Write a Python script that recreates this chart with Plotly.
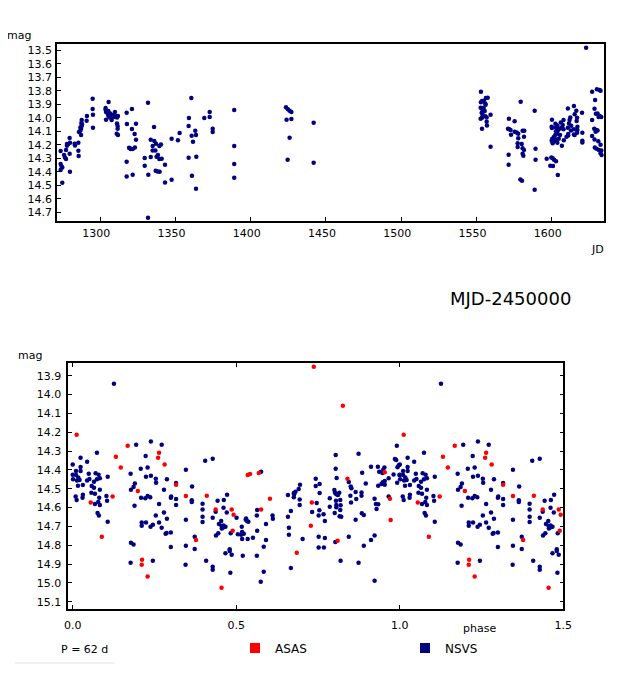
import numpy as np
import plotly.graph_objects as go

# the page body keeps an 8 px margin, so the figure is drawn 8 px smaller
# and every position below is given in window pixels minus that offset
OFF = 8
W, H = 625 - OFF, 674 - OFF

# ---- light curve (NSVS), JD-2450000 vs mag ----
lc_jd = [
    1273.6, 1273.6, 1274.3, 1273.6, 1274.7, 1274.7, 1275.9, 1276.5, 1277.2, 1277.2,
    1277.8, 1277.8, 1278.7, 1279.6, 1279.8, 1279.6, 1279.8, 1282.9, 1283.2, 1285.4,
    1285.4, 1285.6, 1285.8, 1286.7, 1287.2, 1287.6, 1287.2, 1287.4, 1287.6, 1287.8,
    1286.7, 1290.9, 1291.1, 1294.9, 1294.9, 1295.1, 1295.1,
    1303.5, 1303.5, 1303.8, 1303.8, 1305.5, 1305.3, 1304.9, 1305.3, 1306.4, 1306.6,
    1307.1, 1307.5, 1308.0, 1308.9, 1309.7, 1310.0, 1311.1, 1311.1, 1311.7, 1311.5,
    1311.5, 1310.9, 1311.7,
    1317.5, 1317.7, 1317.5, 1317.5, 1321.0, 1321.0, 1322.8, 1323.7, 1323.7, 1319.1,
    1319.7, 1320.2, 1321.5, 1323.0, 1321.5,
    1331.7, 1329.5, 1329.5, 1331.9, 1331.7, 1333.5, 1333.5, 1334.8, 1335.7, 1335.9,
    1334.8, 1336.6, 1337.0, 1337.4, 1338.3, 1339.2, 1339.2, 1340.3, 1340.8, 1336.8,
    1338.1, 1339.4, 1343.0, 1343.0,
    1347.4, 1347.4, 1351.6, 1352.7, 1358.9, 1358.7, 1358.7, 1360.5, 1360.7, 1360.9,
    1361.6, 1363.1, 1363.6, 1363.8, 1363.6, 1369.1, 1372.7, 1372.7, 1374.7, 1374.7,
    1389.0, 1389.0, 1389.0, 1389.0,
    1423.4, 1424.7, 1425.8, 1427.0, 1423.8, 1427.0, 1425.8, 1424.5, 1441.8, 1441.8,
    1553.0, 1553.0, 1553.7, 1555.0, 1556.3, 1557.5, 1555.9, 1556.1, 1552.8, 1553.9,
    1554.8, 1554.1, 1553.5, 1555.5, 1554.1, 1555.9, 1556.8, 1552.8, 1553.7, 1559.4,
    1556.8, 1557.0, 1553.7, 1559.4,
    1571.6, 1575.4, 1579.4, 1571.0, 1571.8, 1572.7, 1573.0, 1575.4, 1576.8, 1577.8,
    1580.7, 1581.8, 1581.6, 1577.8, 1577.4, 1577.4, 1580.1, 1580.7, 1581.6, 1580.7,
    1581.2, 1571.4, 1571.4, 1579.2, 1580.3,
    1588.7, 1589.3, 1589.3, 1588.7,
    1600.2, 1600.0, 1600.2, 1602.5, 1603.8, 1602.9, 1604.3, 1602.9, 1605.6, 1606.1,
    1607.4, 1607.9, 1606.8, 1607.9, 1603.8, 1602.5, 1601.6, 1600.4, 1600.0, 1600.7,
    1602.0, 1603.4, 1603.8, 1604.7, 1605.6, 1606.8, 1608.1, 1609.9, 1611.0, 1610.8,
    1611.9, 1612.4, 1611.5, 1613.0, 1612.8, 1611.0, 1610.8, 1614.8, 1615.3, 1614.8,
    1614.8, 1616.4, 1616.9, 1616.6, 1617.1, 1617.1, 1616.9, 1615.3, 1620.2, 1620.4,
    1620.4, 1620.4, 1596.7, 1599.8, 1600.7, 1601.6, 1602.9, 1599.1, 1600.9, 1604.1,
    1622.9, 1626.9, 1628.9, 1630.1, 1631.9, 1632.5, 1628.5, 1629.4, 1630.5, 1631.2,
    1631.9, 1633.0, 1626.9, 1628.3, 1629.8, 1630.5, 1629.2, 1626.9, 1628.5, 1631.0,
    1632.5, 1628.7, 1629.8, 1631.4, 1633.0, 1633.2, 1632.5,
]
lc_mag = [
    14.246, 14.342, 14.360, 14.387, 14.367, 14.480, 14.275, 14.293, 14.305, 14.238,
    14.206, 14.194, 14.194, 14.150, 14.184, 14.266, 14.399, 14.192, 14.204, 14.184,
    14.243, 14.283, 14.105, 14.095, 14.080, 14.061, 14.127, 14.039, 14.016, 14.048,
    14.071, 14.021, 13.987, 13.858, 13.935, 13.977, 14.073,
    13.927, 13.940, 13.957, 14.014, 13.883, 13.950, 13.967, 13.984, 13.997, 13.967,
    13.989, 14.016, 13.979, 13.994, 13.957, 13.984, 13.997, 14.041, 13.987, 14.061,
    14.080, 14.118, 14.127,
    13.962, 14.046, 14.325, 14.434, 13.935, 14.083, 14.120, 14.043, 14.162, 14.221,
    14.226, 14.231, 14.231, 14.219, 14.421,
    13.888, 14.298, 14.354, 14.421, 14.740, 14.290, 14.162, 14.209, 14.068, 14.172,
    14.241, 14.241, 14.192, 14.288, 14.275, 14.305, 14.209, 14.197, 14.303, 14.392,
    14.397, 14.399, 14.347, 14.479,
    14.155, 14.459, 14.165, 14.113, 14.001, 14.061, 14.295, 13.853, 14.132, 14.429,
    14.177, 14.095, 14.127, 14.288, 14.525, 14.001, 13.957, 13.994, 14.081, 14.105,
    13.942, 14.209, 14.342, 14.443,
    13.922, 13.937, 13.947, 13.957, 14.014, 14.009, 14.147, 14.310, 14.037, 14.332,
    13.806, 13.885, 13.875, 13.873, 13.853, 13.851, 13.893, 13.903, 13.925, 13.927,
    13.927, 13.942, 13.962, 13.950, 13.977, 13.989, 13.997, 14.006, 13.999, 13.977,
    14.029, 14.056, 14.080, 14.214,
    14.006, 14.026, 13.880, 14.080, 14.085, 14.090, 14.125, 14.103, 14.108, 14.118,
    14.095, 14.095, 14.140, 14.152, 14.189, 14.216, 14.194, 14.226, 14.238, 14.266,
    14.280, 14.273, 14.347, 14.456, 14.466,
    13.947, 14.229, 14.310, 14.532,
    14.014, 14.066, 14.075, 14.043, 14.056, 14.071, 14.090, 14.100, 14.078, 14.034,
    14.053, 14.016, 14.071, 14.085, 14.115, 14.125, 14.140, 14.155, 14.170, 14.189,
    14.170, 14.160, 14.184, 14.155, 14.127, 14.206, 14.165, 14.140, 14.120, 14.073,
    14.016, 13.997, 14.041, 14.058, 14.093, 14.130, 13.930, 13.913, 13.974, 14.085,
    14.123, 13.947, 13.999, 14.024, 14.066, 14.090, 14.110, 14.127, 13.962, 14.110,
    14.170, 14.182, 14.303, 14.293, 14.300, 14.310, 14.322, 14.354, 14.357, 14.424,
    13.480, 13.806, 13.867, 13.789, 13.794, 13.799, 13.932, 13.969, 13.967, 13.994,
    13.987, 13.994, 14.016, 14.080, 14.090, 14.093, 14.103, 14.135, 14.160, 14.174,
    14.199, 14.219, 14.229, 14.238, 14.241, 14.275, 14.263,
]

# ---- phased data, P = 62 d, phase in [0, 1) ----
nsvs_phase = [
    0.000, 0.000, 0.001, 0.010, 0.010, 0.013, 0.017, 0.024, 0.024, 0.024,
    0.021, 0.016, 0.031, 0.044, 0.049, 0.044, 0.051, 0.065, 0.070, 0.074,
    0.079, 0.083, 0.074, 0.058, 0.065, 0.083, 0.057, 0.068, 0.081, 0.009,
    0.012, 0.031, 0.030, 0.078, 0.068, 0.083, 0.076, 0.080, 0.107, 0.103,
    0.105, 0.107, 0.126,
    0.177, 0.178, 0.186, 0.190, 0.189, 0.194, 0.208, 0.223, 0.229, 0.224,
    0.239, 0.239, 0.272, 0.254, 0.255, 0.209, 0.222, 0.229, 0.237, 0.264,
    0.288, 0.279, 0.301, 0.300, 0.316, 0.316, 0.316, 0.346, 0.365, 0.364,
    0.364, 0.346, 0.254, 0.279, 0.288, 0.264, 0.211, 0.224, 0.211, 0.238,
    0.245, 0.272, 0.287, 0.300, 0.284, 0.178, 0.186, 0.177, 0.245, 0.300,
    0.346, 0.345, 0.373, 0.373, 0.397, 0.397, 0.397, 0.397, 0.405, 0.428,
    0.428, 0.408, 0.428, 0.428, 0.437, 0.443, 0.462, 0.472, 0.471, 0.461,
    0.447, 0.454, 0.455, 0.461, 0.467, 0.461, 0.456, 0.438, 0.445, 0.483,
    0.467, 0.480, 0.480, 0.486, 0.482,
    0.501, 0.517, 0.518, 0.505, 0.515, 0.523, 0.518, 0.535, 0.551, 0.564,
    0.530, 0.533, 0.537, 0.529, 0.563, 0.564, 0.576, 0.520, 0.563, 0.584,
    0.591, 0.591, 0.611, 0.612, 0.584, 0.575, 0.658, 0.667, 0.661, 0.661,
    0.658, 0.676, 0.676, 0.681, 0.677, 0.691, 0.695, 0.694, 0.694, 0.703,
    0.667, 0.732, 0.743, 0.743, 0.755, 0.755, 0.746, 0.754, 0.767, 0.752,
    0.771, 0.752, 0.768, 0.771, 0.752, 0.786, 0.786, 0.800, 0.804, 0.804,
    0.807, 0.802, 0.806, 0.805, 0.806, 0.806, 0.801, 0.811, 0.815, 0.818,
    0.819, 0.818, 0.816, 0.821, 0.803, 0.819, 0.844, 0.844, 0.850, 0.852,
    0.849, 0.851, 0.865, 0.867, 0.874, 0.883, 0.883, 0.885, 0.884, 0.890,
    0.865, 0.896, 0.890, 0.912, 0.923, 0.874, 0.923, 0.912, 0.923, 0.927,
    0.934, 0.929, 0.934, 0.937, 0.933, 0.947, 0.949, 0.953, 0.944, 0.948,
    0.954, 0.954, 0.966, 0.966, 0.981, 0.985, 0.989, 0.991, 0.993, 0.997,
    0.999, 0.992,
]
nsvs_mag = [
    14.372, 14.426, 14.450, 14.406, 14.427, 14.456, 14.440, 14.335, 14.385, 14.406,
    14.454, 14.484, 14.480, 14.357, 14.420, 14.457, 14.449, 14.463, 14.418, 14.309,
    14.426, 14.445, 14.450, 14.486, 14.495, 14.505, 14.521, 14.527, 14.548, 14.542,
    14.560, 14.532, 14.548, 14.571, 14.581, 14.587, 14.629, 14.643, 14.436, 14.539,
    14.564, 14.675, 13.942,
    14.420, 14.505, 14.491, 14.473, 14.590, 14.266, 14.394, 14.326, 14.388, 14.436,
    14.431, 14.250, 14.266, 14.447, 14.468, 14.548, 14.551, 14.539, 14.546, 14.581,
    14.450, 14.505, 14.542, 14.548, 14.470, 14.555, 14.587, 14.399, 14.489, 14.562,
    14.571, 14.665, 14.643, 14.627, 14.659, 14.680, 14.680, 14.680, 14.697, 14.702,
    14.691, 14.707, 14.735, 14.733, 14.739, 14.787, 14.797, 14.894, 14.883, 14.810,
    14.803, 14.904, 14.755, 14.820, 14.580, 14.611, 14.649, 14.677, 14.351, 14.341,
    14.654, 14.883, 14.914, 14.930, 14.622, 14.564, 14.560, 14.532, 14.627, 14.601,
    14.688, 14.672, 14.698, 14.695, 14.702, 14.705, 14.712, 14.749, 14.737, 14.737,
    14.843, 14.822, 14.831, 14.851, 14.946,
    14.654, 14.702, 14.730, 14.742, 14.744, 14.739, 14.767, 14.767, 14.760, 14.723,
    14.658, 14.672, 14.675, 14.665, 14.643, 14.613, 14.410, 14.856, 14.856, 14.808,
    14.773, 14.688, 14.643, 14.659, 14.941, 14.994, 14.649, 14.618, 14.707, 14.744,
    14.534, 14.546, 14.523, 14.516, 14.530, 14.502, 14.479, 14.558, 14.587, 14.767,
    14.921, 14.624, 14.447, 14.486, 14.475, 14.523, 14.576, 14.615, 14.636, 14.643,
    14.672, 14.813, 14.813, 14.762, 14.755, 14.551, 14.596, 14.507, 14.321, 14.394,
    14.443, 14.521, 14.530, 14.564, 14.587, 14.599, 14.629, 14.534, 14.521, 14.560,
    14.588, 14.613, 14.647, 14.649, 14.783, 14.883, 14.755, 14.465, 14.489, 14.498,
    14.537, 14.574, 14.518, 14.555, 14.314, 14.520, 14.537, 14.415, 14.631, 14.640,
    14.665, 14.473, 14.803, 14.773, 14.749, 14.894, 14.989, 14.383, 14.553, 14.581,
    14.583, 14.608, 14.484, 14.410, 14.383, 14.417, 14.401, 14.388, 14.475, 14.466,
    14.479, 14.459, 14.445, 14.542, 14.424, 14.342, 14.348, 14.272, 14.386, 14.376,
    14.427, 14.468,
]
asas_phase = [
    0.012, 0.055, 0.089, 0.122, 0.132, 0.147, 0.168, 0.199, 0.212, 0.211,
    0.229, 0.261, 0.264, 0.281, 0.316, 0.346, 0.377, 0.410, 0.437, 0.455,
    0.486, 0.492, 0.489,
    0.737, 0.826, 0.535, 0.542, 0.569, 0.603, 0.576, 0.731, 0.728, 0.685,
    0.810, 0.840, 0.972, 0.970, 0.954,
]
asas_mag = [
    14.213, 14.574, 14.755, 14.542, 14.330, 14.388, 14.272, 14.512, 14.877, 14.904,
    14.967, 14.335, 14.309, 14.372, 14.479, 14.539, 14.773, 14.537, 14.611, 15.026,
    14.611, 14.638, 14.723,
    13.852, 14.059, 14.427, 14.422, 14.417, 14.553, 14.611, 14.574, 14.697, 14.840,
    14.776, 14.447, 14.666, 14.553, 14.413,
]

NAVY = "#000080"
RED = "#ff0000"
FONT = "DejaVu Sans"


def fold(phase, mag):
    # repeat the first half cycle after phase 1
    p = np.asarray(phase)
    m = np.asarray(mag)
    keep = p < 0.5
    return np.concatenate([p, p[keep] + 1.0]), np.concatenate([m, m[keep]])


def px(x):
    return (x - OFF) / W


def py(y):
    return 1 - (y - OFF) / H


def label(text, x, y, size=11):
    return dict(text=text, x=px(x), y=py(y), xref="paper", yref="paper",
                xanchor="center", yanchor="middle", showarrow=False,
                font=dict(size=size))


nx, ny = fold(nsvs_phase, nsvs_mag)
ax, ay = fold(asas_phase, asas_mag)

fig = go.Figure()
fig.add_trace(go.Scatter(x=lc_jd, y=lc_mag, mode="markers", xaxis="x", yaxis="y",
                         marker=dict(color=NAVY, size=4.5), showlegend=False, name="NSVS"))
fig.add_trace(go.Scatter(x=nx, y=ny, mode="markers", xaxis="x2", yaxis="y2",
                         marker=dict(color=NAVY, size=4.5), showlegend=False, name="NSVS"))
fig.add_trace(go.Scatter(x=ax, y=ay, mode="markers", xaxis="x2", yaxis="y2",
                         marker=dict(color=RED, size=4.5), showlegend=False, name="ASAS"))
# legend entries
fig.add_trace(go.Scatter(x=[None], y=[None], mode="markers", name="ASAS",
                         marker=dict(color=RED, size=10, symbol="square")))
fig.add_trace(go.Scatter(x=[None], y=[None], mode="markers", name="NSVS",
                         marker=dict(color=NAVY, size=10, symbol="square")))

axis_common = dict(showline=True, linecolor="black", linewidth=1.5, ticks="inside",
                   ticklen=4, tickcolor="black", showgrid=False, zeroline=False,
                   tickfont=dict(family=FONT, size=11, color="black"))

fig.update_layout(
    width=W, height=H, autosize=False,
    margin=dict(l=0, r=0, t=0, b=0, autoexpand=False),
    paper_bgcolor="white", plot_bgcolor="white",
    font=dict(family=FONT, size=11, color="black"),
    xaxis=dict(domain=[px(57), px(604)], range=[1271.2, 1634.8], anchor="y",
               tickvals=list(range(1300, 1601, 50)), mirror=True,
               ticklabelshift=-4, ticklabelstandoff=1, **axis_common),
    yaxis=dict(domain=[py(221), py(44)], range=[14.764, 13.453], anchor="x",
               tickvals=[round(13.5 + 0.1 * i, 1) for i in range(13)], tickformat=".1f",
               mirror=True, ticklabelstandoff=1, **axis_common),
    xaxis2=dict(domain=[px(68.3), px(563.3)], range=[-0.0135, 1.5], anchor="y2",
                tickvals=[0.0, 0.5, 1.0, 1.5], tickformat=".1f", mirror="ticks",
                ticklabelstandoff=5, **axis_common),
    yaxis2=dict(domain=[py(609), py(363.3)], range=[15.139, 13.834], anchor="x2",
                tickvals=[round(13.9 + 0.1 * i, 1) for i in range(13)], tickformat=".1f",
                mirror="ticks", ticklabelstandoff=3, **axis_common),
    legend=dict(orientation="h", x=px(235), y=py(648), xanchor="left", yanchor="middle",
                entrywidth=125, font=dict(family=FONT, size=12, color="black"),
                bgcolor="rgba(0,0,0,0)", itemsizing="trace"),
    annotations=[
        label("mag", 19, 35.5),
        label("JD", 597, 249),
        label("MJD-2450000", 510, 298, size=18),
        label("mag", 30, 355),
        label("phase", 479, 628),
        label("P = 62 d", 84, 649),
    ],
    shapes=[
        dict(type="line", xref="paper", yref="paper", x0=px(15), x1=px(115),
             y0=py(663), y1=py(663), line=dict(color="#e4e4e4", width=1)),
    ],
)

fig.write_html("out.html")
